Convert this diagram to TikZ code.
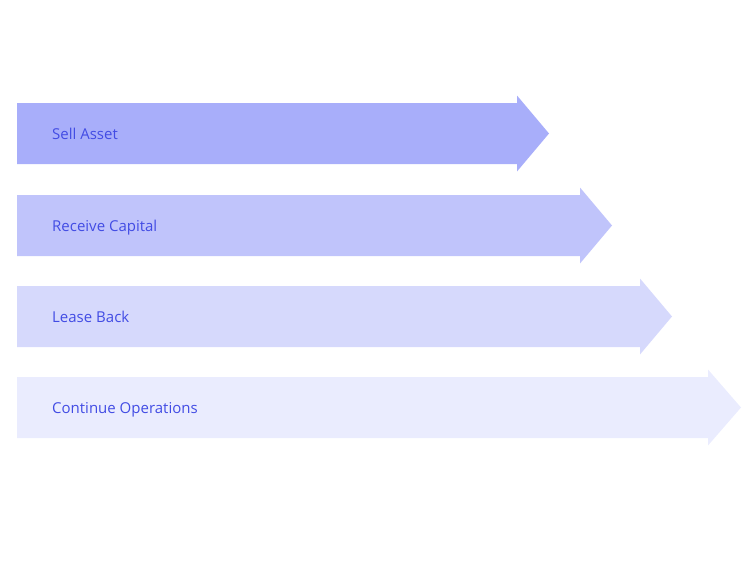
\documentclass[tikz,border=0pt]{standalone}
\usepackage{fontspec}
\setmainfont{Open Sans}
\usepackage{xcolor}
\usetikzlibrary{positioning}

\definecolor{barA}{RGB}{168,174,250}
\definecolor{barB}{RGB}{192,196,251}
\definecolor{barC}{RGB}{214,217,252}
\definecolor{barD}{RGB}{234,236,254}
\definecolor{txtblue}{RGB}{66,76,228}

\tikzset{
  lbl/.style={anchor=base west,inner sep=0pt,text=txtblue,font=\fontsize{15}{17}\selectfont}
}

\begin{document}
\begin{tikzpicture}[x=1pt,y=-1pt]
      \def\hei{61}
      \def\ov{7.5}
      \def\hd{32}

      \useasboundingbox (0,0) rectangle (750,570);

      \fill[barA] (17,103) -- ++(500,0) -- ++(0,-\ov) -- ++(\hd,\hei/2+\ov) -- ++(-\hd,\hei/2+\ov) -- ++(0,-\ov) -- ++(-500,0) -- cycle;
      \fill[barB] (17,195) -- ++(563,0) -- ++(0,-\ov) -- ++(\hd,\hei/2+\ov) -- ++(-\hd,\hei/2+\ov) -- ++(0,-\ov) -- ++(-563,0) -- cycle;
      \fill[barC] (17,286) -- ++(623,0) -- ++(0,-\ov) -- ++(\hd,\hei/2+\ov) -- ++(-\hd,\hei/2+\ov) -- ++(0,-\ov) -- ++(-623,0) -- cycle;
      \fill[barD] (17,377) -- ++(691,0) -- ++(0,-\ov) -- ++(\hd+1,\hei/2+\ov) -- ++(-\hd-1,\hei/2+\ov) -- ++(0,-\ov) -- ++(-691,0) -- cycle;

      \node[lbl] (sell) at (52,139) {Sell Asset};
      \node[lbl] (receive) at (52,231) {Receive Capital};
      \node[lbl] (lease) at (52,322) {Lease Back};
      \node[lbl] (continue) at (52,413) {Continue Operations};
\end{tikzpicture}
\end{document}
